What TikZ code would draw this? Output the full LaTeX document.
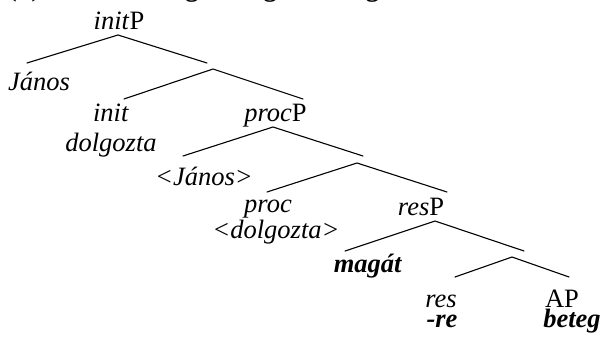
\documentclass[tikz,border=0pt]{standalone}
\usepackage{fontspec}
\setmainfont{Liberation Serif}
\begin{document}
\begin{tikzpicture}[x=1pt,y=-1pt,
  lbl/.style={anchor=base,inner sep=0pt,outer sep=0pt,font=\fontsize{26.5}{30}\selectfont},
  branch/.style={line width=1.1pt,line cap=round}]
\useasboundingbox (0,0) rectangle (604,339);
\begin{scope}
\clip (0,0) rectangle (604,339);
% example heading (only its lower edge falls inside the frame)
\node[lbl,anchor=base west,font=\fontsize{26.5}{30}\selectfont\bfseries] (title) at (8,-3.5) {(b)\quad János betegre dolgozta magát.};
\end{scope}

% branching points
\coordinate (initP) at (118,35);
\coordinate (spec1) at (27,63);
\coordinate (bar1top) at (207,63);
\coordinate (bar1) at (213,69);
\coordinate (init) at (124,99);
\coordinate (bar1r) at (303,99);
\coordinate (procP) at (273,127);
\coordinate (spec2) at (183,156);
\coordinate (bar2top) at (363,156);
\coordinate (bar2) at (357,163);
\coordinate (proc) at (267,192);
\coordinate (bar2r) at (447,192);
\coordinate (resP) at (435,221);
\coordinate (spec3) at (345,251);
\coordinate (bar3top) at (524,251);
\coordinate (bar3) at (512,257);
\coordinate (res) at (455,277);
\coordinate (AP) at (569,277);

\draw[branch] (spec1) -- (initP) -- (bar1top);
\draw[branch] (init) -- (bar1) -- (bar1r);
\draw[branch] (spec2) -- (procP) -- (bar2top);
\draw[branch] (proc) -- (bar2) -- (bar2r);
\draw[branch] (spec3) -- (resP) -- (bar3top);
\draw[branch] (res) -- (bar3) -- (AP);

% labels
\node[lbl] (tinitP) at (119,30) {\textit{init}P};
\node[lbl] (tjanos) at (39,91) {\textit{János}};
\node[lbl] (tinit) at (111,122) {\textit{init}};
\node[lbl] (tdolg) at (111,151) {\textit{dolgozta}};
\node[lbl] (tprocP) at (275.5,122) {\textit{proc}P};
\node[lbl] (tjanos2) at (204,185) {\textit{<János>}};
\node[lbl] (tproc) at (268,212) {\textit{proc}};
\node[lbl] (tdolg2) at (276,238) {\textit{<dolgozta>}};
\node[lbl] (tresP) at (421,215) {\textit{res}P};
\node[lbl] (tmagat) at (368,272) {\textbf{\textit{magát}}};
\node[lbl] (tres) at (441,307) {\textit{res}};
\node[lbl] (tre) at (442,327) {\textbf{\textit{-re}}};
\node[lbl] (tAP) at (562,307) {AP};
\node[lbl] (tbeteg) at (572,327) {\textbf{\textit{beteg}}};
\end{tikzpicture}
\end{document}
